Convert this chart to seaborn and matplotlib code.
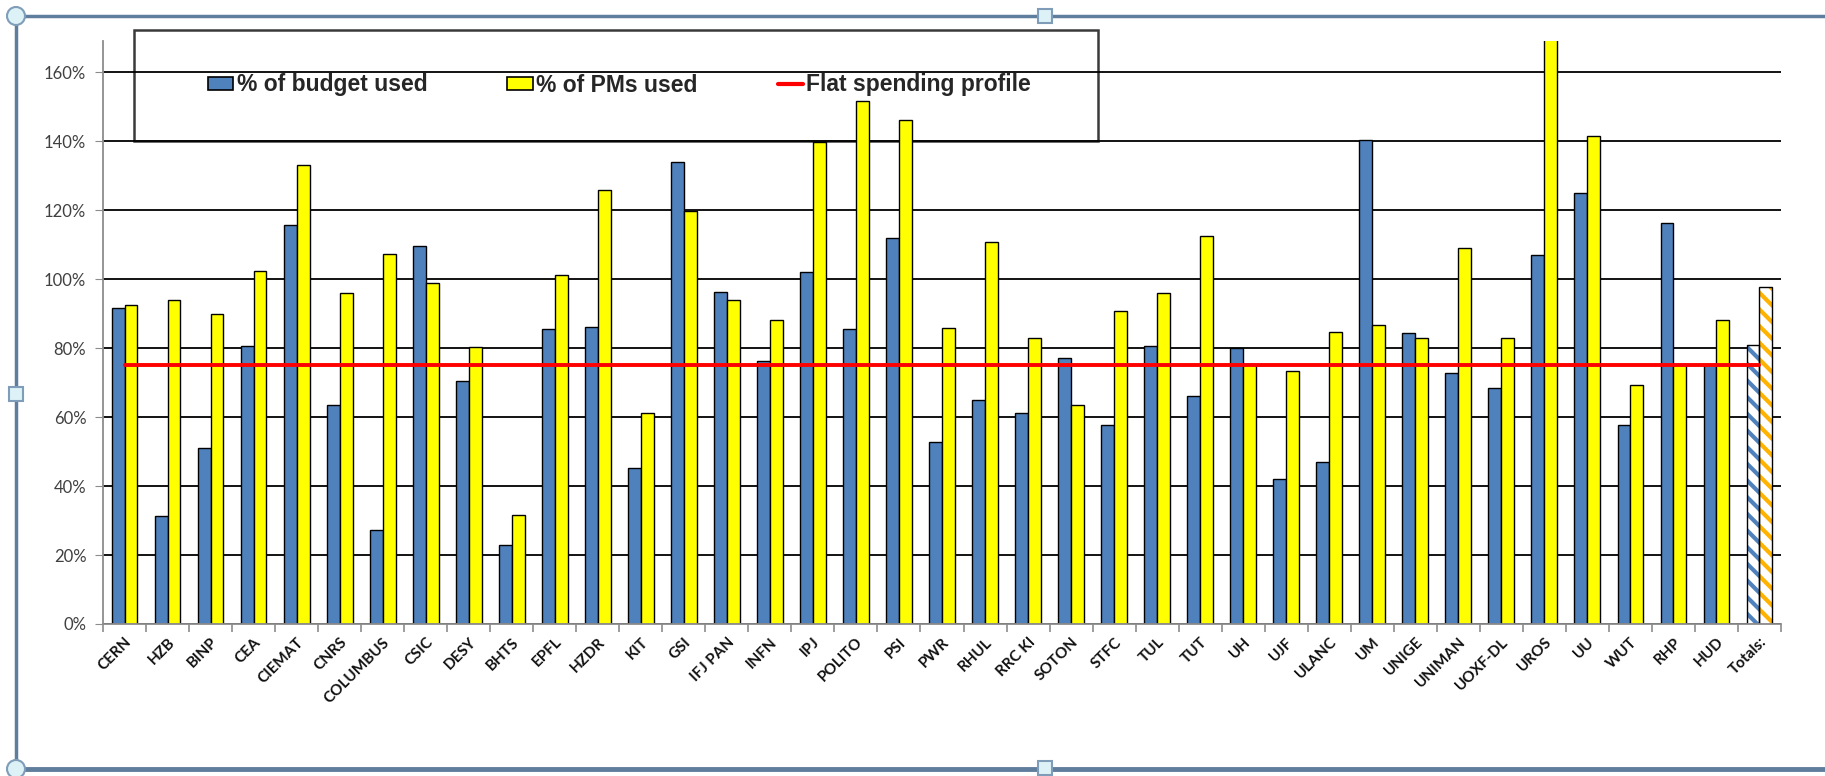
import numpy as np
import pandas as pd
import matplotlib
matplotlib.use('Agg')
import matplotlib.pyplot as plt
import seaborn as sns
from matplotlib.patches import Patch, Rectangle, Ellipse
from matplotlib.lines import Line2D
from matplotlib.ticker import PercentFormatter, FixedLocator

# dane (ułamki, 1.0 = 100%)
partnerzy = ['CERN', 'HZB', 'BINP', 'CEA', 'CIEMAT', 'CNRS', 'COLUMBUS', 'CSIC', 'DESY', 'BHTS',
             'EPFL', 'HZDR', 'KIT', 'GSI', 'IFJ PAN', 'INFN', 'IPJ', 'POLITO', 'PSI', 'PWR',
             'RHUL', 'RRC KI', 'SOTON', 'STFC', 'TUL', 'TUT', 'UH', 'UJF', 'ULANC', 'UM',
             'UNIGE', 'UNIMAN', 'UOXF-DL', 'UROS', 'UU', 'WUT', 'RHP', 'HUD', 'Totals:']
budzet = [0.915, 0.314, 0.510, 0.807, 1.158, 0.635, 0.273, 1.097, 0.705, 0.230,
          0.854, 0.860, 0.452, 1.340, 0.962, 0.763, 1.020, 0.854, 1.120, 0.527,
          0.648, 0.611, 0.770, 0.577, 0.807, 0.662, 0.800, 0.419, 0.469, 1.404,
          0.844, 0.729, 0.685, 1.070, 1.249, 0.577, 1.161, 0.753, 0.810]
osobomiesiace = [0.925, 0.938, 0.898, 1.023, 1.330, 0.959, 1.073, 0.989, 0.803, 0.317,
                 1.013, 1.259, 0.611, 1.198, 0.938, 0.881, 1.397, 1.516, 1.462, 0.857,
                 1.107, 0.830, 0.635, 0.908, 0.959, 1.124, 0.753, 0.732, 0.847, 0.868,
                 0.830, 1.090, 0.830, 1.700, 1.414, 0.692, 0.753, 0.881, 0.976]
plaski_profil = [0.75] * len(partnerzy)

seria_b = '% of budget used'
seria_p = '% of PMs used'

df = pd.DataFrame({
    'partner': partnerzy * 2,
    'seria': [seria_b] * len(partnerzy) + [seria_p] * len(partnerzy),
    'wartosc': budzet + osobomiesiace,
})

sns.set_style('white')
plt.rcParams['font.family'] = ['Lato', 'DejaVu Sans']
plt.rcParams['hatch.linewidth'] = 3.0

niebieski = '#4F81BD'
zolty = '#FFFF00'
pomaranczowy = '#FFB300'

fig = plt.figure(figsize=(18.25, 7.76), dpi=100)
W, H = 1825, 776
ax = fig.add_axes([103 / W, 1 - 624 / H, (1781 - 103) / W, (624 - 41) / H])
ax.patch.set_alpha(0)

sns.barplot(data=df, x='partner', y='wartosc', hue='seria', palette=[niebieski, zolty],
            edgecolor='black', linewidth=1.0, width=0.6, saturation=1, legend=False, ax=ax)

# kreskowane słupki dla "Totals:"
for kontener, kolor in zip(ax.containers, [niebieski, pomaranczowy]):
    p = kontener[-1]
    p.set_facecolor('white')
    p.set_edgecolor(kolor)
    p.set_hatch('\\\\')
    p.set_linewidth(0)
    ax.add_patch(Rectangle(p.get_xy(), p.get_width(), p.get_height(), facecolor='none',
                           edgecolor='black', linewidth=1.0, zorder=p.get_zorder() + 0.1))

ax.plot(range(len(partnerzy)), plaski_profil, color='#FF0000', lw=2.8, zorder=5)

ax.set_ylim(0, 1.69)
ax.set_xlim(-0.5, len(partnerzy) - 0.5)
ax.yaxis.set_major_locator(FixedLocator(np.arange(0, 1.61, 0.2)))
ax.yaxis.set_major_formatter(PercentFormatter(1.0, decimals=0))
ax.grid(axis='y', color='black', lw=1.3)
ax.set_axisbelow(True)
ax.set_xlabel('')
ax.set_ylabel('')

for s in ['top', 'right']:
    ax.spines[s].set_visible(False)
for s in ['left', 'bottom']:
    ax.spines[s].set_color('#8C8C8C')
    ax.spines[s].set_linewidth(1.3)

ax.tick_params(axis='y', left=True, length=6, color='#8C8C8C', labelsize=12,
               labelcolor='#404040', pad=6)
ax.set_xticks(np.arange(-0.5, len(partnerzy), 1), minor=True)
ax.tick_params(axis='x', which='minor', bottom=True, length=6, color='#8C8C8C', width=1.2)
ax.tick_params(axis='x', which='major', length=0, pad=8)
ax.set_xticks(range(len(partnerzy)))
ax.set_xticklabels(partnerzy, rotation=45, ha='right', rotation_mode='anchor',
                   fontsize=11, fontweight='bold', color='#111111')

# ramka legendy (przezroczysta, pod słupkami)
fig.add_artist(Rectangle((134 / W, 1 - 141 / H), (1098 - 134) / W, (141 - 30) / H,
                         transform=fig.transFigure, facecolor='none', edgecolor='#3A3A3A',
                         linewidth=1.8, zorder=-1))
uchwyty = [Patch(facecolor=niebieski, edgecolor='black', lw=1.2),
           Patch(facecolor=zolty, edgecolor='black', lw=1.2),
           Line2D([], [], color='#FF0000', lw=3)]
leg = fig.legend(uchwyty, [seria_b, seria_p, 'Flat spending profile'], ncol=3,
                 loc='center left', bbox_to_anchor=(208 / W, 1 - 85 / H), frameon=False,
                 borderpad=0, borderaxespad=0, handlelength=1.1, handleheight=0.5,
                 handletextpad=0.15, columnspacing=3.5,
                 prop={'family': ['Liberation Sans', 'DejaVu Sans'], 'weight': 'bold', 'size': 16.5})
leg.set_zorder(11)

# ramka zaznaczenia wykresu (jak w Excelu)
ramka = '#5F7D9C'
for xs, ys, lw in [([16, W], [16, 16], 2.5), ([16, 16], [16, 769], 2.5), ([16, W], [769, 769], 3.5)]:
    fig.add_artist(Line2D([x / W for x in xs], [1 - y / H for y in ys], color=ramka, lw=lw,
                          transform=fig.transFigure, zorder=12))
for cx, cy in [(16, 16), (16, 769)]:
    fig.add_artist(Ellipse((cx / W, 1 - cy / H), 18 / W, 18 / H, transform=fig.transFigure,
                           facecolor='#DDF2F7', edgecolor='#7F9DB8', lw=1.5, zorder=13))
for cx, cy in [(16, 394), (1045, 16), (1045, 768)]:
    fig.add_artist(Rectangle(((cx - 7) / W, 1 - (cy + 7) / H), 14 / W, 14 / H,
                             transform=fig.transFigure, facecolor='#DDF2F7',
                             edgecolor='#7F9DB8', lw=1.5, zorder=13))

fig.savefig('out.png', dpi=100, facecolor='white')
